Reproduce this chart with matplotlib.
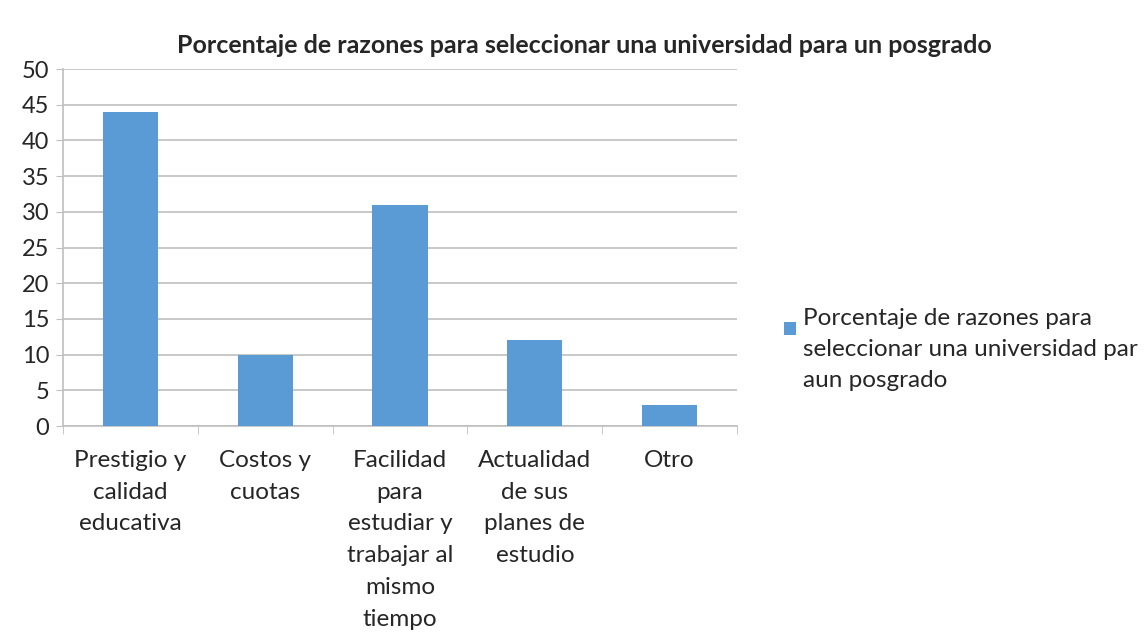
import matplotlib.pyplot as plt
from matplotlib.patches import Rectangle
from matplotlib.legend_handler import HandlerPatch
from matplotlib.container import BarContainer
import numpy as np

categories = [
    "Prestigio y\ncalidad\neducativa",
    "Costos y\ncuotas",
    "Facilidad\npara\nestudiar y\ntrabajar al\nmismo\ntiempo",
    "Actualidad\nde sus\nplanes de\nestudio",
    "Otro",
]
values = [44, 10, 31, 12, 3]
yticks = [0, 5, 10, 15, 20, 25, 30, 35, 40, 45, 50]
title = "Porcentaje de razones para seleccionar una universidad para un posgrado"
legend_label = "Porcentaje de razones para\nseleccionar una universidad par\naun posgrado"

plt.rcParams["font.family"] = ["Lato", "DejaVu Sans"]
text_color = "#262626"
bar_color = "#5b9bd5"


def top_square(legend, orig_handle, xdescent, ydescent, width, height, fontsize):
    # small square aligned with the first line of the label
    s = 9
    return Rectangle((-xdescent, -ydescent + height - s - 6), s, s)


def from_first_bar(handle, orig):
    handle.update_from(orig.patches[0])


fig = plt.figure(figsize=(11.48, 6.34), dpi=100)
ax = fig.add_axes([0.055, 0.328, 0.587, 0.563])

x = np.arange(len(categories))
ax.bar(x, values, width=0.41, color=bar_color, label=legend_label, zorder=3)

ax.set_xlim(-0.5, len(categories) - 0.5)
ax.set_ylim(0, 50)
ax.set_yticks(yticks)
ax.tick_params(axis="y", labelsize=17, length=5, color="#bfbfbf", labelcolor=text_color, pad=5)
ax.yaxis.grid(True, color="#bfbfbf", linewidth=1.2, zorder=0)

ax.set_xticks(x)
ax.set_xticklabels(categories, fontsize=17.5, color=text_color)
for lbl in ax.get_xticklabels():
    lbl.set_linespacing(1.64)
ax.tick_params(axis="x", which="major", length=0, pad=17)
ax.set_xticks(np.arange(-0.5, len(categories)), minor=True)
ax.tick_params(axis="x", which="minor", length=6, color="#bfbfbf")

for side in ["top", "right"]:
    ax.spines[side].set_visible(False)
for side in ["left", "bottom"]:
    ax.spines[side].set_color("#bfbfbf")
    ax.spines[side].set_linewidth(1.2)

fig.text(0.509, 0.928, title, ha="center", va="center", fontsize=18,
         fontweight="bold", color=text_color)

leg = ax.legend(loc="center left", bbox_to_anchor=(1.055, 0.215), frameon=False,
                prop={"size": 17.5}, handlelength=0.5, handleheight=4.4,
                handletextpad=0.3, borderaxespad=0,
                handler_map={BarContainer: HandlerPatch(patch_func=top_square,
                                                        update_func=from_first_bar)})
for t in leg.get_texts():
    t.set_linespacing(1.6)
    t.set_color(text_color)

fig.savefig("out.png", dpi=100)
plt.close(fig)
